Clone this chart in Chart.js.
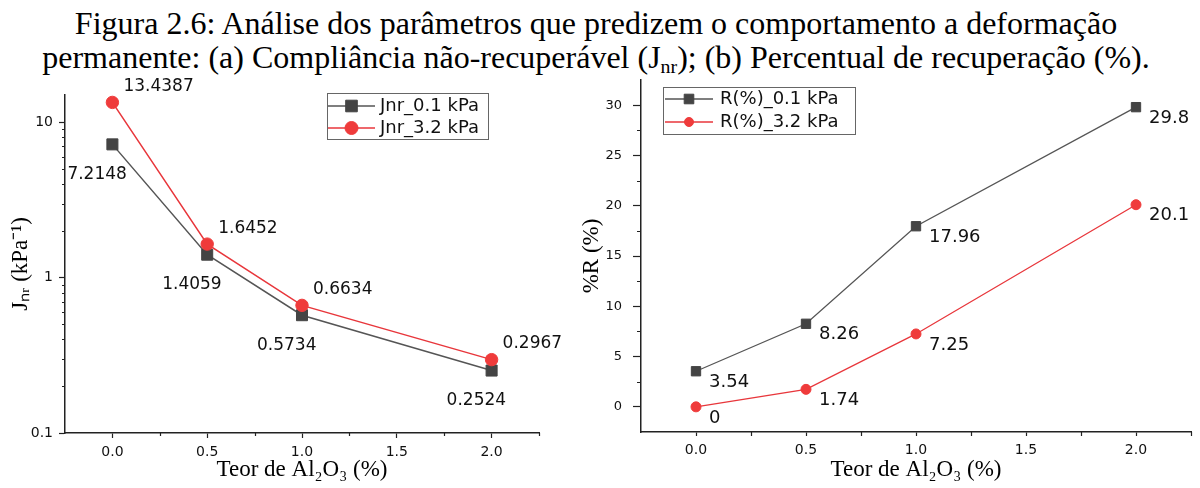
<!DOCTYPE html>
<html>
<head>
<meta charset="utf-8">
<script src="https://cdn.jsdelivr.net/npm/chart.js@4.4.1/dist/chart.umd.min.js"></script>
<style>
  html, body { margin: 0; padding: 0; background: #fff; }
  body { width: 1200px; height: 488px; position: relative; overflow: hidden; }
  #caption {
    position: absolute; left: 0; top: 6px; width: 1192px; text-align: center;
    font-family: 'Liberation Serif', 'Times New Roman', serif; font-size: 32px; line-height: 34px; color: #000;
  }
  #caption sub { font-size: 0.62em; vertical-align: -0.25em; line-height: 0; }
  .wrap { position: absolute; }
  #wrapA { left: 0; top: 70px; width: 574px; height: 418px; }
  #wrapB { left: 574px; top: 60px; width: 626px; height: 428px; }
</style>
</head>
<body>
<div id="caption">Figura 2.6: Análise dos parâmetros que predizem o comportamento a deformação<br>permanente: (a) Compliância não-recuperável (J<sub>nr</sub>); (b) Percentual de recuperação (%).</div>
<div class="wrap" id="wrapA"><canvas id="chartJnr"></canvas></div>
<div class="wrap" id="wrapB"><canvas id="chartRec"></canvas></div>
<script>
// data
const teor = [0, 0.5, 1.0, 2.0];
const jnr01 = [7.2148, 1.4059, 0.5734, 0.2524];
const jnr32 = [13.4387, 1.6452, 0.6634, 0.2967];
const rec01 = [3.54, 8.26, 17.96, 29.8];
const rec32 = [0, 1.74, 7.25, 20.1];

const teorTicks = [0, 0.5, 1.0, 1.5, 2.0];
const teorMinor = [0.25, 0.75, 1.25, 1.75, 2.25];
const jnrTicks = [0.1, 1, 10];
const jnrMinor = [0.2, 0.3, 0.4, 0.5, 0.6, 0.7, 0.8, 0.9, 2, 3, 4, 5, 6, 7, 8, 9];
const recTicks = [0, 5, 10, 15, 20, 25, 30];
const recMinor = [2.5, 7.5, 12.5, 17.5, 22.5, 27.5];

const sans = "'DejaVu Sans', sans-serif";
const serif = "'Liberation Serif', 'Times New Roman', serif";
const axisColor = '#222';
const grayLine = '#555';
const grayMark = '#444';
const redLine = '#e8363b';
const redMark = '#ef3b3b';

// short minor ticks, drawn through the chart's own scales
const minorTicks = {
    id: 'minorTicks',
    afterDraw(chart, args, opts) {
        const ctx = chart.ctx;
        const xs = chart.scales.x, ys = chart.scales.y;
        ctx.save();
        ctx.strokeStyle = axisColor;
        ctx.lineWidth = 1.2;
        ctx.beginPath();
        (opts.x || []).forEach(v => {
            const px = Math.round(xs.getPixelForValue(v)) + 0.5;
            ctx.moveTo(px, xs.top);
            ctx.lineTo(px, xs.top + opts.len);
        });
        (opts.y || []).forEach(v => {
            const py = Math.round(ys.getPixelForValue(v)) + 0.5;
            ctx.moveTo(ys.right, py);
            ctx.lineTo(ys.right - opts.len, py);
        });
        ctx.stroke();
        ctx.restore();
    }
};

// value labels next to each point
const pointLabels = {
    id: 'pointLabels',
    afterDatasetsDraw(chart, args, opts) {
        const ctx = chart.ctx;
        ctx.save();
        ctx.font = opts.font;
        ctx.fillStyle = '#111';
        ctx.textAlign = 'left';
        ctx.textBaseline = 'middle';
        chart.data.datasets.forEach((ds, i) => {
            const off = opts.offsets[i];
            chart.getDatasetMeta(i).data.forEach((pt, j) => {
                ctx.fillText(String(ds.data[j].y), pt.x + off.dx, pt.y + off.dy);
            });
        });
        ctx.restore();
    }
};

// Origin-style legend: line + marker + text inside a frame
const lineLegend = {
    id: 'lineLegend',
    afterDraw(chart, args, o) {
        const ctx = chart.ctx;
        ctx.save();
        ctx.fillStyle = '#fff';
        ctx.fillRect(o.x, o.y, o.w, o.h);
        ctx.strokeStyle = '#666';
        ctx.lineWidth = 1;
        ctx.strokeRect(o.x + 0.5, o.y + 0.5, o.w, o.h);
        chart.data.datasets.forEach((ds, i) => {
            const y = o.rows[i];
            ctx.strokeStyle = ds.borderColor;
            ctx.lineWidth = ds.borderWidth;
            ctx.beginPath();
            ctx.moveTo(o.lineX[0], y);
            ctx.lineTo(o.lineX[1], y);
            ctx.stroke();
            ctx.fillStyle = ds.pointBackgroundColor;
            ctx.strokeStyle = ds.pointBorderColor;
            ctx.lineWidth = 1;
            Chart.helpers.drawPoint(ctx, { pointStyle: ds.pointStyle, radius: o.radius[i], borderWidth: 1, rotation: 0 },
                (o.lineX[0] + o.lineX[1]) / 2, y);
            ctx.fillStyle = '#111';
            ctx.font = o.font;
            ctx.textAlign = 'left';
            ctx.textBaseline = 'middle';
            ctx.fillText(ds.label, o.textX, y);
        });
        ctx.restore();
    }
};

function xAxis(height, tickLen, pad) {
    return {
        type: 'linear', min: -0.25, max: 2.25,
        afterBuildTicks: s => { s.ticks = teorTicks.map(v => ({ value: v })); },
        afterFit: s => { s.height = height; },
        ticks: { callback: v => v.toFixed(1), font: { family: sans, size: 14 }, color: '#111', padding: pad, maxRotation: 0, autoSkip: false },
        grid: { drawOnChartArea: false, tickLength: tickLen, tickWidth: 1.2, tickColor: axisColor },
        border: { color: axisColor, width: 1.5 },
        title: { display: true, text: 'Teor de Al₂O₃ (%)', font: { family: serif, size: 23 }, color: '#000', padding: { top: 0, bottom: 4 } }
    };
}

function pts(ys) {
    return teor.map((x, i) => ({ x: x, y: ys[i] }));
}

new Chart(document.getElementById('chartJnr'), {
    type: 'line',
    data: {
        datasets: [
            { label: 'Jnr_0.1 kPa', data: pts(jnr01), order: 1, borderColor: grayLine, borderWidth: 1.5,
              pointStyle: 'rect', pointRadius: 7.8, pointBackgroundColor: grayMark, pointBorderColor: grayMark, pointBorderWidth: 1 },
            { label: 'Jnr_3.2 kPa', data: pts(jnr32), order: 0, borderColor: redLine, borderWidth: 1.5,
              pointStyle: 'circle', pointRadius: 6.2, pointBackgroundColor: redMark, pointBorderColor: redMark, pointBorderWidth: 1 }
        ]
    },
    plugins: [minorTicks, pointLabels, lineLegend],
    options: {
        responsive: true,
        maintainAspectRatio: false,
        animation: false,
        layout: { padding: { top: 25, right: 35, left: 0, bottom: 0 } },
        scales: {
            x: xAxis(55, 5, 6),
            y: {
                type: 'logarithmic', min: 0.1, max: 15,
                afterBuildTicks: s => { s.ticks = jnrTicks.map(v => ({ value: v })); },
                afterFit: s => { s.width = 65; },
                ticks: { callback: v => String(v), font: { family: sans, size: 14 }, color: '#111', padding: 6 },
                grid: { drawOnChartArea: false, tickLength: 6, tickWidth: 1.2, tickColor: axisColor },
                border: { color: axisColor, width: 1.5 },
                title: { display: true, text: 'Jₙᵣ (kPa⁻¹)', font: { family: serif, size: 23 }, color: '#000', padding: { top: 7, bottom: 0 } }
            }
        },
        plugins: {
            legend: { display: false },
            tooltip: { enabled: false },
            minorTicks: { x: teorMinor, y: jnrMinor, len: 3 },
            pointLabels: { font: '17px ' + sans, offsets: [{ dx: -45, dy: 30 }, { dx: 11, dy: -16 }] },
            lineLegend: { x: 327, y: 23, w: 161, h: 46, rows: [36, 58], lineX: [328, 375], textX: 380,
                          radius: [8.2, 6.5], font: '18px ' + sans }
        }
    }
});

new Chart(document.getElementById('chartRec'), {
    type: 'line',
    data: {
        datasets: [
            { label: 'R(%)_0.1 kPa', data: pts(rec01), order: 1, borderColor: grayLine, borderWidth: 1.3,
              pointStyle: 'rect', pointRadius: 6.6, pointBackgroundColor: grayMark, pointBorderColor: grayMark, pointBorderWidth: 1 },
            { label: 'R(%)_3.2 kPa', data: pts(rec32), order: 0, borderColor: redLine, borderWidth: 1.3,
              pointStyle: 'circle', pointRadius: 5, pointBackgroundColor: redMark, pointBorderColor: redMark, pointBorderWidth: 1 }
        ]
    },
    plugins: [minorTicks, pointLabels, lineLegend],
    options: {
        responsive: true,
        maintainAspectRatio: false,
        animation: false,
        layout: { padding: { top: 20, right: 9, left: 0, bottom: 0 } },
        scales: {
            x: xAxis(56, 4, 6),
            y: {
                type: 'linear', min: -2.5, max: 32.5,
                afterBuildTicks: s => { s.ticks = recTicks.map(v => ({ value: v })); },
                afterFit: s => { s.width = 67; },
                ticks: { callback: v => String(v), font: { family: sans, size: 13 }, color: '#111', padding: 11 },
                grid: { drawOnChartArea: false, tickLength: 8, tickWidth: 1.2, tickColor: axisColor },
                border: { color: axisColor, width: 1.5 },
                title: { display: true, text: '%R (%)', font: { family: serif, size: 23 }, color: '#000', padding: { top: 4, bottom: 0 } }
            }
        },
        plugins: {
            legend: { display: false },
            tooltip: { enabled: false },
            minorTicks: { x: teorMinor, y: recMinor, len: 4 },
            pointLabels: { font: '18px ' + sans, offsets: [{ dx: 13, dy: 11 }, { dx: 13, dy: 11 }] },
            lineLegend: { x: 89, y: 27, w: 192, h: 47, rows: [39, 62], lineX: [91, 139], textX: 146,
                          radius: [6.8, 4.5], font: '18px ' + sans }
        }
    }
});
</script>
</body>
</html>
